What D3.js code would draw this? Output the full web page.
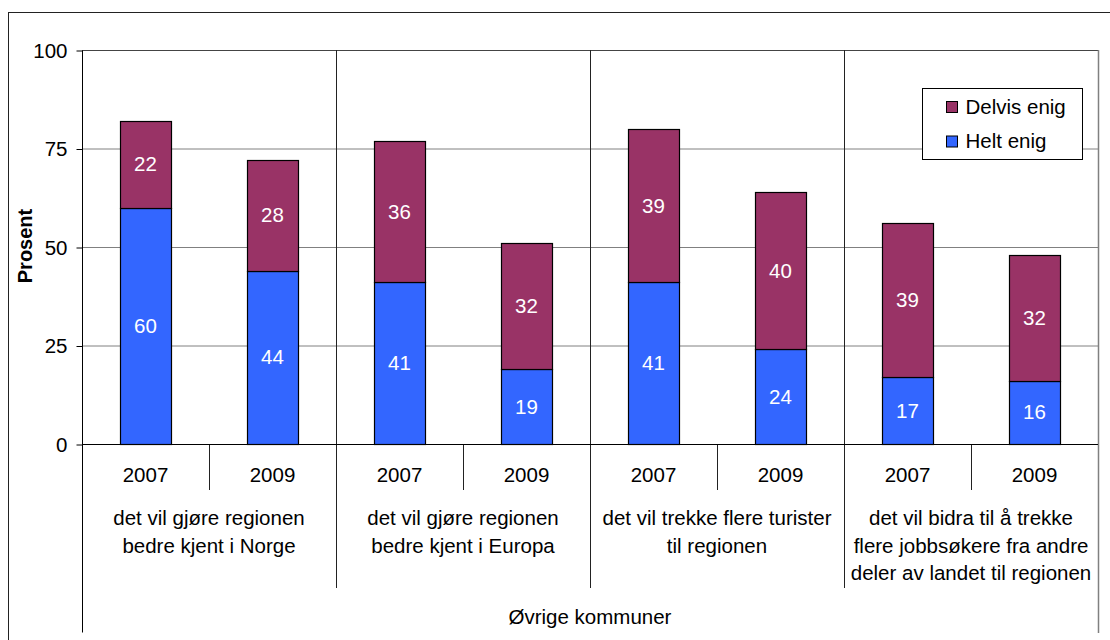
<!DOCTYPE html>
<html>
<head>
<meta charset="utf-8">
<script src="https://cdn.jsdelivr.net/npm/d3@7/dist/d3.min.js"></script>
<style>
  body { margin: 0; background: #fff; }
  svg { display: block; font-family: "Liberation Sans", Arial, sans-serif; }
</style>
</head>
<body>
<svg id="chart" width="1110" height="640"></svg>
<script>
// data
var years = ['2007', '2009', '2007', '2009', '2007', '2009', '2007', '2009'];
var groups = [
  ['det vil gjøre regionen', 'bedre kjent i Norge'],
  ['det vil gjøre regionen', 'bedre kjent i Europa'],
  ['det vil trekke flere turister', 'til regionen'],
  ['det vil bidra til å trekke', 'flere jobbsøkere fra andre', 'deler av landet til regionen']
];
var heltEnig = [60, 44, 41, 19, 41, 24, 17, 16];
var delvisEnig = [22, 28, 36, 32, 39, 40, 39, 32];
var yTicks = [0, 25, 50, 75, 100];
var seriesNames = ['Delvis enig', 'Helt enig'];
var colors = { 'Delvis enig': '#993366', 'Helt enig': '#3366FF' };
var outerLabel = 'Øvrige kommuner';

var svg = d3.select('#chart');
var pLeft = 82, pRight = 1098, pTop = 50, pBottom = 444;
var fs = '20.5px';

// outer chart frame
svg.append('rect')
  .attr('x', 8.5).attr('y', 12.5)
  .attr('width', 1200).attr('height', 700)
  .attr('fill', 'none').attr('stroke', '#222');

var x = d3.scaleBand().domain(d3.range(years.length)).range([pLeft, pRight]).paddingInner(0);
var xGroup = d3.scaleBand().domain(d3.range(groups.length)).range([pLeft, pRight]);
var y = d3.scaleLinear().domain([0, 100]).range([pBottom, pTop]);

// gridlines
svg.append('g').selectAll('line')
  .data(yTicks.filter(function(d){ return d > 0; }))
  .enter().append('line')
  .attr('x1', pLeft).attr('x2', pRight)
  .attr('y1', function(d){ return y(d) + 0.5; })
  .attr('y2', function(d){ return y(d) + 0.5; })
  .attr('stroke', function(d){ return d === 100 ? '#444' : '#808080'; });

// right edge of plot, extended down through category labels
svg.append('line')
  .attr('x1', pRight + 0.5).attr('x2', pRight + 0.5)
  .attr('y1', pTop).attr('y2', 633)
  .attr('stroke', '#808080').attr('stroke-width', 1.5);

// group separators (through plot and label area)
svg.append('g').selectAll('line')
  .data(d3.range(1, groups.length))
  .enter().append('line')
  .attr('x1', function(d){ return Math.round(xGroup(d)) + 0.5; })
  .attr('x2', function(d){ return Math.round(xGroup(d)) + 0.5; })
  .attr('y1', pTop).attr('y2', 588)
  .attr('stroke', '#222');

// year separators
svg.append('g').selectAll('line')
  .data(d3.range(groups.length))
  .enter().append('line')
  .attr('x1', function(d){ return Math.round(x(d * 2 + 1)) + 0.5; })
  .attr('x2', function(d){ return Math.round(x(d * 2 + 1)) + 0.5; })
  .attr('y1', pBottom).attr('y2', 490)
  .attr('stroke', '#222');

// stacked bars
var stackData = years.map(function(yr, i){
  return { i: i, 'Helt enig': heltEnig[i], 'Delvis enig': delvisEnig[i] };
});
var stack = d3.stack().keys(['Helt enig', 'Delvis enig'])(stackData);
var barW = x.bandwidth() * 0.4;

var layers = svg.append('g').selectAll('g')
  .data(stack)
  .enter().append('g')
  .attr('fill', function(d){ return colors[d.key]; });

layers.selectAll('rect')
  .data(function(d){ return d; })
  .enter().append('rect')
  .attr('x', function(d){ return Math.round(x(d.data.i) + (x.bandwidth() - barW) / 2) + 0.5; })
  .attr('y', function(d){ return Math.round(y(d[1])) + 0.5; })
  .attr('width', Math.round(barW))
  .attr('height', function(d){ return Math.round(y(d[0])) - Math.round(y(d[1])); })
  .attr('stroke', '#000').attr('stroke-width', 1.2);

layers.selectAll('text')
  .data(function(d){ return d; })
  .enter().append('text')
  .attr('x', function(d){ return x(d.data.i) + x.bandwidth() / 2; })
  .attr('y', function(d){ return (y(d[0]) + y(d[1])) / 2 + 7; })
  .attr('text-anchor', 'middle')
  .attr('fill', '#fff')
  .style('font-size', fs)
  .text(function(d){ return d[1] - d[0]; });

// y axis
var yAxis = svg.append('g')
  .attr('transform', 'translate(' + (pLeft + 0.5) + ',0.5)')
  .call(d3.axisLeft(y).tickValues(yTicks).tickSize(6).tickPadding(9));
yAxis.select('.domain').attr('stroke', '#000').attr('d', 'M0,' + pTop + 'V632');
yAxis.selectAll('.tick line').attr('stroke', '#000');
yAxis.selectAll('.tick text')
  .attr('fill', '#000')
  .style('font-size', fs)
  .style('font-family', '"Liberation Sans", Arial, sans-serif');

// x baseline
svg.append('line')
  .attr('x1', pLeft).attr('x2', pRight)
  .attr('y1', pBottom + 0.5).attr('y2', pBottom + 0.5)
  .attr('stroke', '#000');

// year labels
svg.append('g').selectAll('text')
  .data(years)
  .enter().append('text')
  .attr('x', function(d, i){ return x(i) + x.bandwidth() / 2; })
  .attr('y', 482)
  .attr('text-anchor', 'middle')
  .style('font-size', fs)
  .text(function(d){ return d; });

// group labels
var gl = svg.append('g').selectAll('text')
  .data(groups)
  .enter().append('text')
  .attr('text-anchor', 'middle')
  .style('font-size', fs);
gl.selectAll('tspan')
  .data(function(d, i){ return d.map(function(s){ return { s: s, g: i }; }); })
  .enter().append('tspan')
  .attr('x', function(d){ return xGroup(d.g) + xGroup.bandwidth() / 2; })
  .attr('y', function(d, j){ return 525 + j * 27.5; })
  .text(function(d){ return d.s; });

svg.append('text')
  .attr('x', (pLeft + pRight) / 2)
  .attr('y', 624)
  .attr('text-anchor', 'middle')
  .style('font-size', fs)
  .text(outerLabel);

// y title
svg.append('text')
  .attr('transform', 'translate(32,246) rotate(-90)')
  .attr('text-anchor', 'middle')
  .style('font-size', '20px')
  .style('font-weight', 'bold')
  .text('Prosent');

// legend
var legend = svg.append('g').attr('transform', 'translate(922.5,88.5)');
legend.append('rect')
  .attr('width', 160).attr('height', 71)
  .attr('fill', '#fff').attr('stroke', '#000');
var items = legend.selectAll('g.item')
  .data(seriesNames)
  .enter().append('g')
  .attr('transform', function(d, i){ return 'translate(24,' + (13 + i * 34.5) + ')'; });
items.append('rect')
  .attr('width', 11).attr('height', 11)
  .attr('fill', function(d){ return colors[d]; })
  .attr('stroke', '#000');
items.append('text')
  .attr('x', 19).attr('y', 12)
  .style('font-size', fs)
  .text(function(d){ return d; });
</script>
</body>
</html>
